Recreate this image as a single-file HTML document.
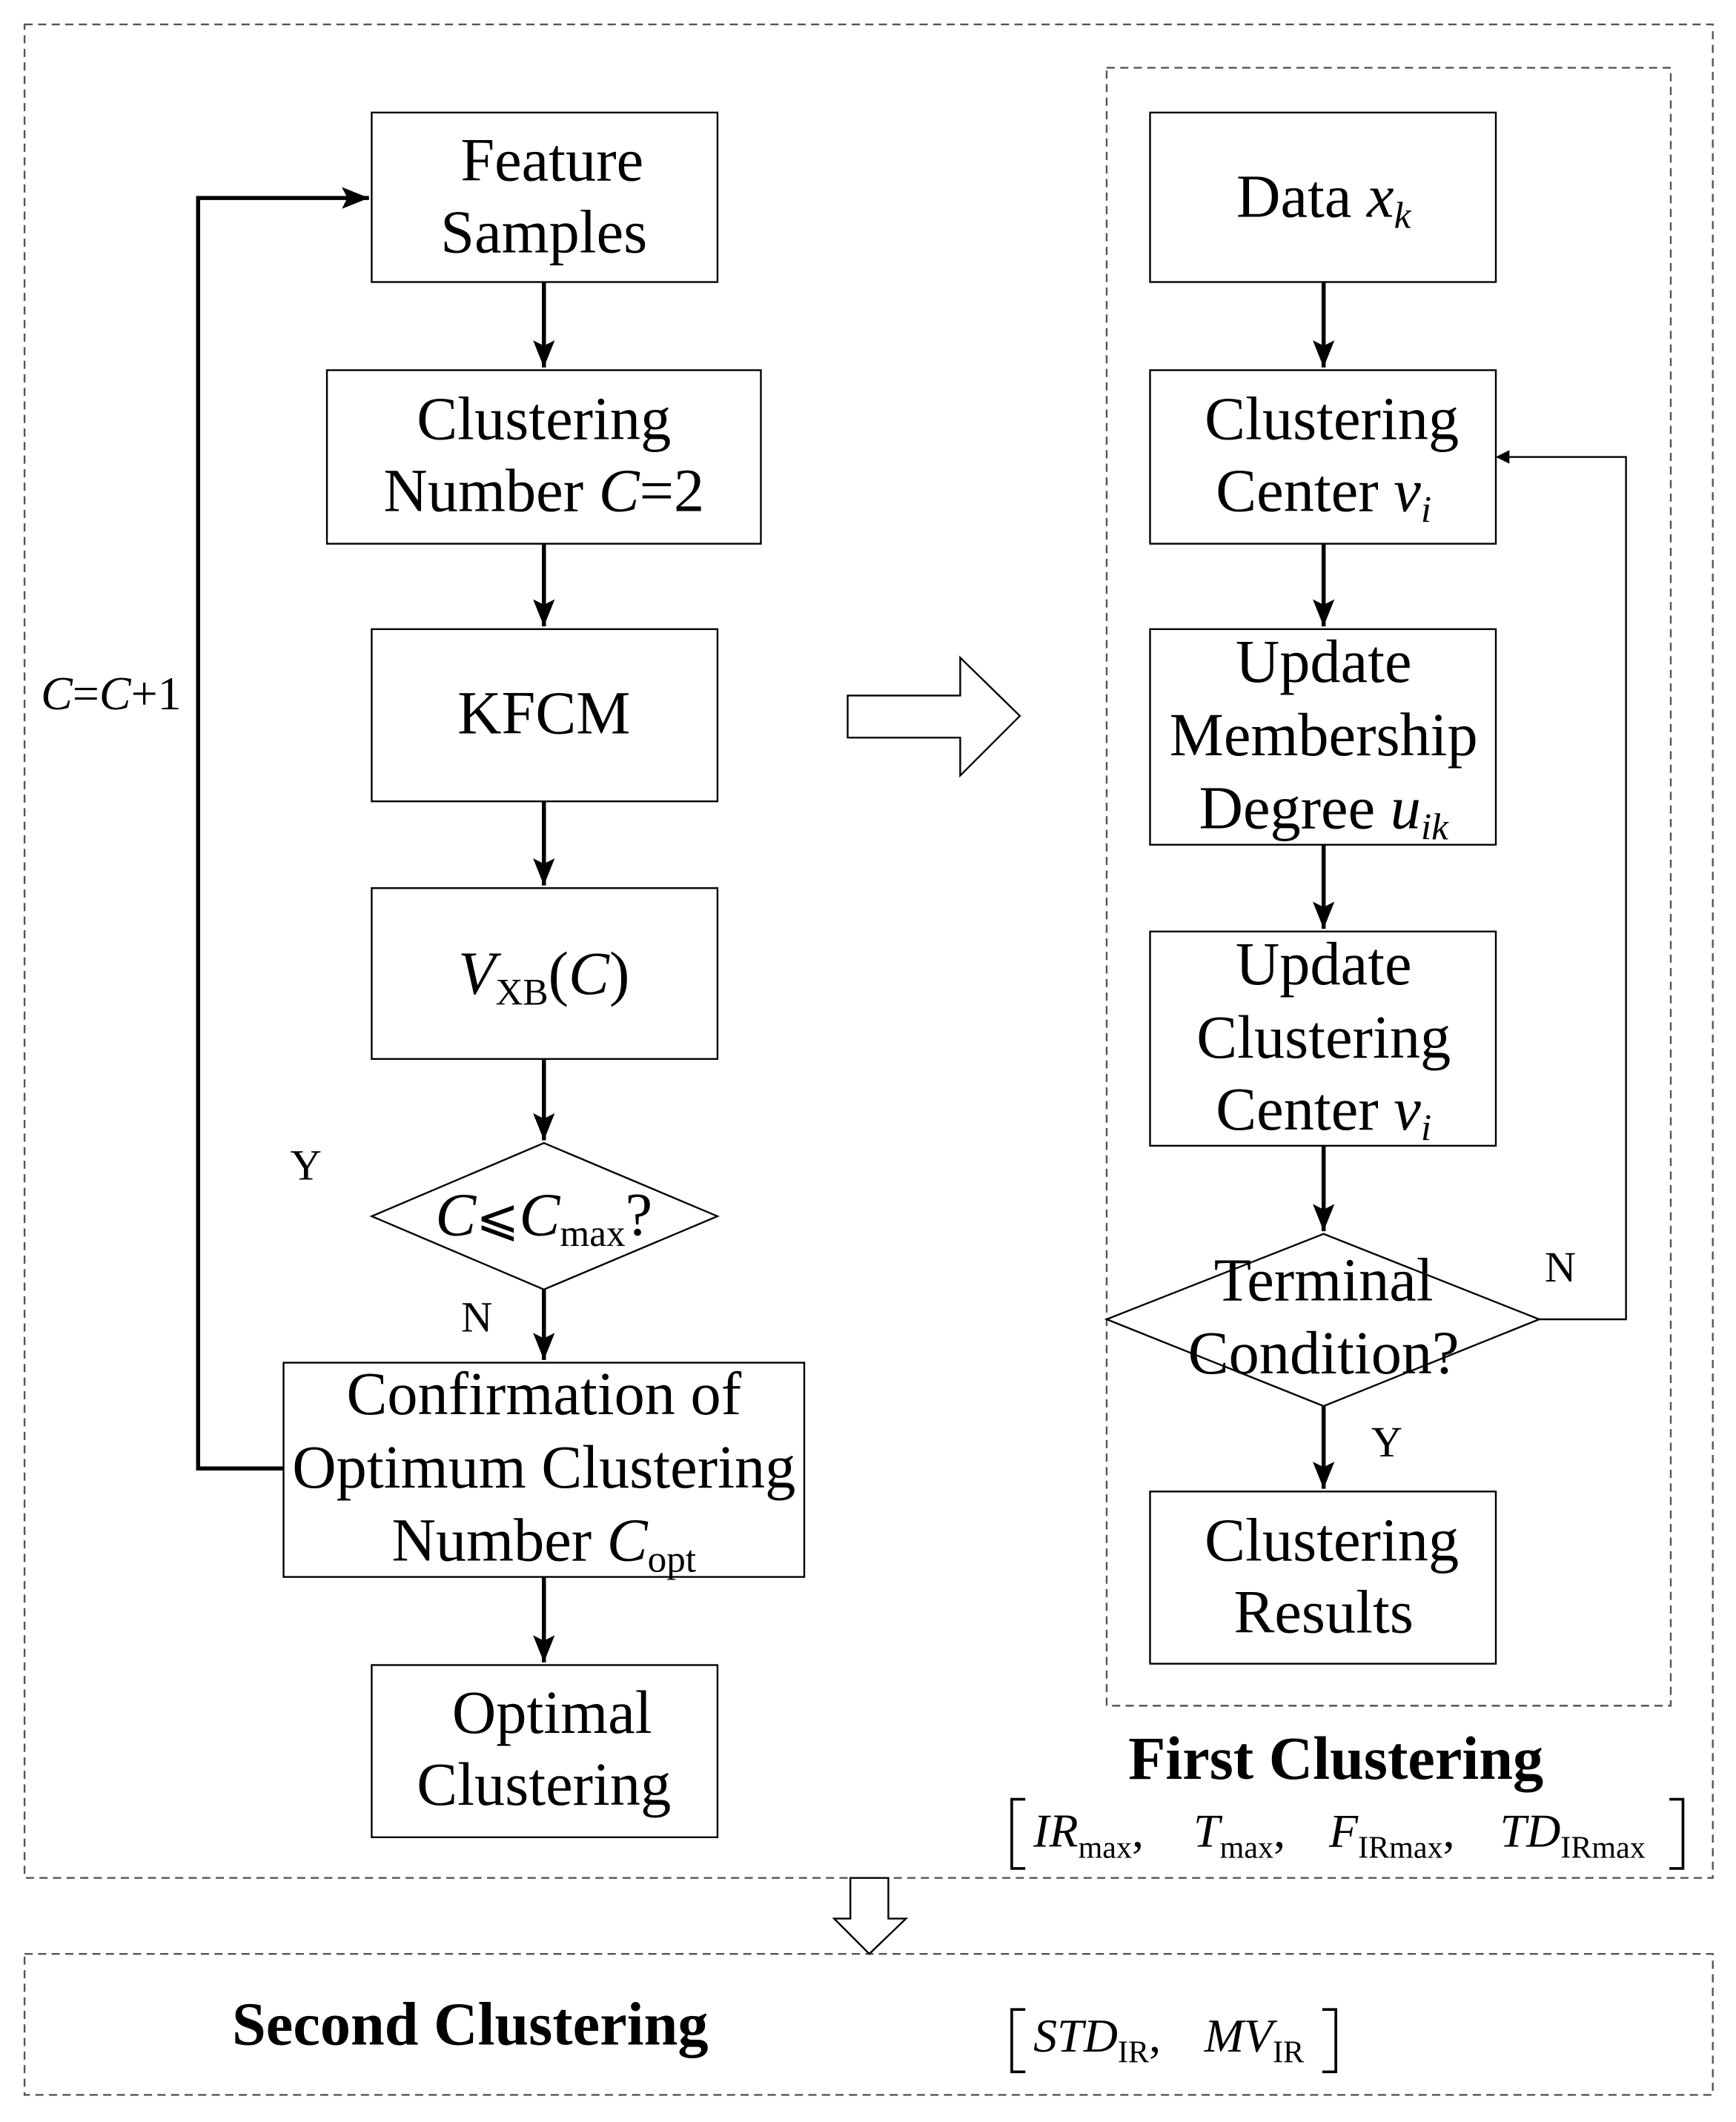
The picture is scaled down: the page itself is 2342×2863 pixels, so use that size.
<!DOCTYPE html>
<html><head><meta charset="utf-8"><style>
html,body{margin:0;padding:0;background:#fff;}
svg{display:block;}
text{font-family:"Liberation Serif",serif;fill:#000;}
</style></head><body>
<svg width="2342" height="2863" viewBox="0 0 1280 1565" xmlns="http://www.w3.org/2000/svg">
<defs>
<marker id="ah" markerWidth="10" markerHeight="10" refX="9" refY="5" orient="auto" markerUnits="userSpaceOnUse"><path d="M0,0 L10,5 L0,10 Z" fill="#000"/></marker>
<marker id="ah2" markerWidth="22" markerHeight="16" refX="20" refY="8" orient="auto" markerUnits="userSpaceOnUse"><path d="M0,0 L20,8 L0,16 L4,8 Z" fill="#000"/></marker>
</defs>
<rect width="1280" height="1565" fill="#fff"/>
<g fill="none" stroke="#555" stroke-width="1.3" stroke-dasharray="6,4">
<rect x="18" y="18" width="1245" height="1367"/>
<rect x="816" y="50" width="416" height="1208"/>
<rect x="18" y="1441" width="1245" height="104"/>
</g>
<g fill="#fff" stroke="#000" stroke-width="1.3">
<rect x="274" y="83" width="255" height="125"/>
<rect x="241" y="273" width="320" height="128"/>
<rect x="274" y="464" width="255" height="127"/>
<rect x="274" y="655" width="255" height="126"/>
<polygon points="274,897 401,843 529,897 401,951"/>
<rect x="209" y="1005" width="384" height="158"/>
<rect x="274" y="1228" width="255" height="127"/>
<rect x="848" y="83" width="255" height="125"/>
<rect x="848" y="273" width="255" height="128"/>
<rect x="848" y="464" width="255" height="159"/>
<rect x="848" y="687" width="255" height="158"/>
<polygon points="816,973 976,910 1135,973 976,1037"/>
<rect x="848" y="1100" width="255" height="127"/>
<polygon points="625,513 708,513 708,485 752,528 708,572 708,544 625,544"/>
<polygon points="627,1385 655,1385 655,1415 668,1415 641,1441 615,1415 627,1415"/>
</g>
<g stroke="#000" stroke-width="3" fill="none">
<line x1="401" y1="208" x2="401" y2="271" marker-end="url(#ah2)"/>
<line x1="401" y1="401" x2="401" y2="462" marker-end="url(#ah2)"/>
<line x1="401" y1="591" x2="401" y2="653" marker-end="url(#ah2)"/>
<line x1="401" y1="781" x2="401" y2="841" marker-end="url(#ah2)"/>
<line x1="401" y1="951" x2="401" y2="1003" marker-end="url(#ah2)"/>
<line x1="401" y1="1163" x2="401" y2="1226" marker-end="url(#ah2)"/>
<polyline points="209,1083 146,1083 146,146 272,146" marker-end="url(#ah2)"/>
<line x1="976" y1="208" x2="976" y2="271" marker-end="url(#ah2)"/>
<line x1="976" y1="401" x2="976" y2="462" marker-end="url(#ah2)"/>
<line x1="976" y1="623" x2="976" y2="685" marker-end="url(#ah2)"/>
<line x1="976" y1="845" x2="976" y2="908" marker-end="url(#ah2)"/>
<line x1="976" y1="1037" x2="976" y2="1098" marker-end="url(#ah2)"/>
</g>
<polyline points="1135,973 1199,973 1199,337 1104,337" stroke="#000" stroke-width="1.3" fill="none" marker-end="url(#ah)"/>
<g font-size="45" text-anchor="middle">
<text x="407" y="133">Feature</text>
<text x="401" y="186">Samples</text>
<text x="401" y="324">Clustering</text>
<text x="401" y="377">Number <tspan font-style="italic">C</tspan>=2</text>
<text x="401" y="541">KFCM</text>
<text x="401" y="733"><tspan font-style="italic">V</tspan><tspan font-size="28" dy="8">XB</tspan><tspan dy="-8">(</tspan><tspan font-style="italic">C</tspan>)</text>
<text x="401" y="911"><tspan font-style="italic">C</tspan><tspan font-family="DejaVu Serif" font-size="38">⩽</tspan><tspan font-style="italic">C</tspan><tspan font-size="28" dy="8">max</tspan><tspan dy="-8">?</tspan></text>
<text x="401" y="1043">Confirmation of</text>
<text x="401" y="1097">Optimum Clustering</text>
<text x="401" y="1151">Number <tspan font-style="italic">C</tspan><tspan font-size="28" dy="8">opt</tspan></text>
<text x="407" y="1278">Optimal</text>
<text x="401" y="1331">Clustering</text>
<text x="976" y="160">Data <tspan font-style="italic">x</tspan><tspan font-size="28" font-style="italic" dy="8">k</tspan></text>
<text x="982" y="324">Clustering</text>
<text x="976" y="377">Center <tspan font-style="italic">v</tspan><tspan font-size="28" font-style="italic" dy="8">i</tspan></text>
<text x="976" y="503">Update</text>
<text x="976" y="557">Membership</text>
<text x="976" y="611">Degree <tspan font-style="italic">u</tspan><tspan font-size="28" font-style="italic" dy="8">ik</tspan></text>
<text x="976" y="726">Update</text>
<text x="976" y="780">Clustering</text>
<text x="976" y="833">Center <tspan font-style="italic">v</tspan><tspan font-size="28" font-style="italic" dy="8">i</tspan></text>
<text x="976" y="959">Terminal</text>
<text x="976" y="1013">Condition?</text>
<text x="982" y="1151">Clustering</text>
<text x="976" y="1204">Results</text>
</g>
<g font-size="32">
<text x="30" y="523" font-size="35"><tspan font-style="italic">C</tspan>=<tspan font-style="italic">C</tspan>+1</text>
<text x="214" y="870">Y</text>
<text x="340" y="982">N</text>
<text x="1139" y="945">N</text>
<text x="1011" y="1074">Y</text>
</g>
<text x="985" y="1312" font-size="45" font-weight="bold" text-anchor="middle">First Clustering</text>
<text x="171" y="1508" font-size="45" font-weight="bold">Second Clustering</text>
<g stroke="#000" stroke-width="2" fill="none">
<polyline points="756,1327 746,1327 746,1378 756,1378"/>
<polyline points="1231,1327 1241,1327 1241,1378 1231,1378"/>
<polyline points="756,1482 746,1482 746,1528 756,1528"/>
<polyline points="975,1482 985,1482 985,1528 975,1528"/>
</g>
<g font-size="35" font-style="italic">
<text x="762" y="1362">IR<tspan font-size="23" font-style="normal" dy="8">max</tspan><tspan dy="-8" font-style="normal">,</tspan></text>
<text x="880" y="1362">T<tspan font-size="23" font-style="normal" dy="8">max</tspan><tspan dy="-8" font-style="normal">,</tspan></text>
<text x="980" y="1362">F<tspan font-size="23" font-style="normal" dy="8">IRmax</tspan><tspan dy="-8" font-style="normal">,</tspan></text>
<text x="1106" y="1362">TD<tspan font-size="23" font-style="normal" dy="8">IRmax</tspan></text>
<text x="762" y="1513">STD<tspan font-size="23" font-style="normal" dy="8">IR</tspan><tspan dy="-8" font-style="normal">,</tspan></text>
<text x="888" y="1513">MV<tspan font-size="23" font-style="normal" dy="8">IR</tspan></text>
</g>
</svg>
</body></html>
